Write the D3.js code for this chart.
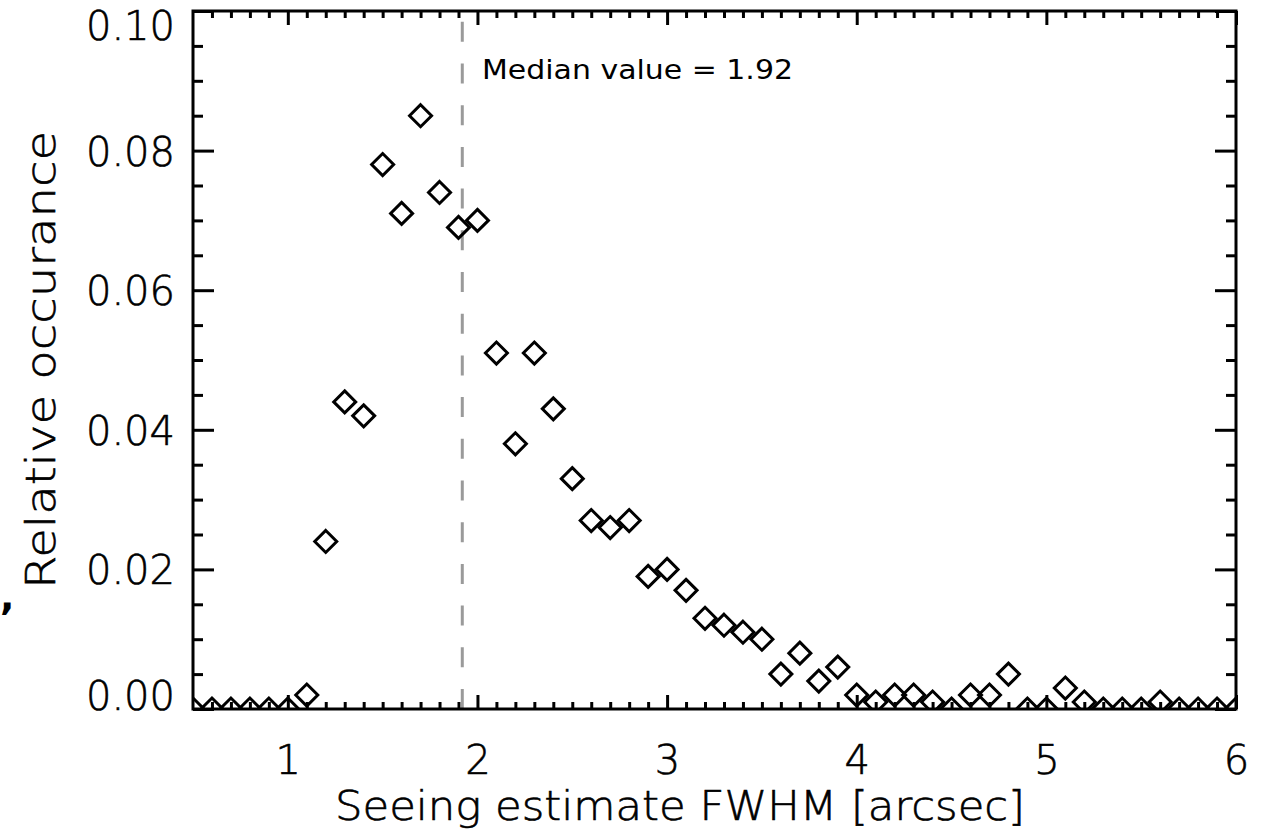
<!DOCTYPE html>
<html>
<head>
<meta charset="utf-8">
<script src="https://cdn.jsdelivr.net/npm/d3@7"></script>
<style>
  html, body { margin: 0; padding: 0; background: #fff; }
  svg { display: block; }
  text { font-family: "DejaVu Sans", sans-serif; fill: #000; }
  .thin { font-weight: 200; stroke: #000; stroke-width: 0.6px; }
</style>
</head>
<body>
<svg id="chart" width="1263" height="832"></svg>
<script>
// ---- data ----
const seeingBins = [0.5,0.6,0.7,0.8,0.9,1.0,1.1,1.2,1.3,1.4,1.5,1.6,1.7,1.8,1.9,2.0,
  2.1,2.2,2.3,2.4,2.5,2.6,2.7,2.8,2.9,3.0,3.1,3.2,3.3,3.4,3.5,3.6,3.7,3.8,3.9,4.0,
  4.1,4.2,4.3,4.4,4.5,4.6,4.7,4.8,4.9,5.0,5.1,5.2,5.3,5.4,5.5,5.6,5.7,5.8,5.9,6.0];
const relativeOccurance = [0,0,0,0,0,0,0.002,0.024,0.044,0.042,0.078,0.071,0.085,0.074,0.069,0.070,
  0.051,0.038,0.051,0.043,0.033,0.027,0.026,0.027,0.019,0.020,0.017,0.013,0.012,0.011,0.010,0.005,
  0.008,0.004,0.006,0.002,0.001,0.002,0.002,0.001,0,0.002,0.002,0.005,0,0,0.003,0.001,0,0,0,0.001,
  0,0,0,0];
const medianValue = 1.92;
const xMajorTicks = [1,2,3,4,5,6];
const yMajorTicks = [0.00,0.02,0.04,0.06,0.08,0.10];
const xTitle = "Seeing estimate FWHM [arcsec]";
const yTitle = "Relative occurance";
const medianLabel = "Median value = 1.92";

// ---- layout ----
const L = 193, R = 1236, T = 11, B = 709;
const svg = d3.select("#chart");
const x = d3.scaleLinear().domain([0.5, 6.0]).range([L, R]);
const y = d3.scaleLinear().domain([0, 0.10]).range([B, T]);

const xMinor = d3.range(6, 60).map(d => d / 10).filter(v => Math.abs(v - Math.round(v)) > 1e-6);
const yMinor = d3.range(1, 20).map(d => d * 0.005).filter(v => Math.abs(v / 0.02 - Math.round(v / 0.02)) > 1e-6);

function styleAxis(g) {
  g.select(".domain").remove();
  g.selectAll(".tick line").attr("stroke", "#000").attr("stroke-width", 3);
}

// bottom
svg.append("g").attr("transform", `translate(0,${B})`)
  .call(d3.axisBottom(x).tickValues(xMajorTicks).tickSize(-14).tickPadding(37).tickFormat(d3.format("d")))
  .call(styleAxis)
  .call(g => g.selectAll("text").attr("class", "thin").attr("font-size", 40).attr("font-family", "DejaVu Sans"));
svg.append("g").attr("transform", `translate(0,${B})`)
  .call(d3.axisBottom(x).tickValues(xMinor).tickSize(-7).tickFormat(""))
  .call(styleAxis);
// top
svg.append("g").attr("transform", `translate(0,${T})`)
  .call(d3.axisTop(x).tickValues(xMajorTicks).tickSize(-14).tickFormat(""))
  .call(styleAxis);
svg.append("g").attr("transform", `translate(0,${T})`)
  .call(d3.axisTop(x).tickValues(xMinor).tickSize(-7).tickFormat(""))
  .call(styleAxis);
// left
svg.append("g").attr("transform", `translate(${L},0)`)
  .call(d3.axisLeft(y).tickValues(yMajorTicks).tickSize(-21).tickPadding(18).tickFormat(d3.format(".2f")))
  .call(styleAxis)
  .call(g => g.selectAll("text").attr("class", "thin").attr("font-size", 40).attr("font-family", "DejaVu Sans")
    .attr("dy", d => d >= 0.1 ? "0.70em" : (d === 0 ? "0.02em" : "0.36em")));
svg.append("g").attr("transform", `translate(${L},0)`)
  .call(d3.axisLeft(y).tickValues(yMinor).tickSize(-10).tickFormat(""))
  .call(styleAxis);
// right
svg.append("g").attr("transform", `translate(${R},0)`)
  .call(d3.axisRight(y).tickValues(yMajorTicks).tickSize(-21).tickFormat(""))
  .call(styleAxis);
svg.append("g").attr("transform", `translate(${R},0)`)
  .call(d3.axisRight(y).tickValues(yMinor).tickSize(-10).tickFormat(""))
  .call(styleAxis);

// median dashed line
svg.append("line")
  .attr("x1", x(medianValue)).attr("x2", x(medianValue))
  .attr("y1", y(0)).attr("y2", y(0.10))
  .attr("stroke", "#9a9a9a").attr("stroke-width", 3)
  .attr("stroke-dasharray", "20 21.7");

// clip
svg.append("clipPath").attr("id", "plotclip")
  .append("rect").attr("x", L).attr("y", T).attr("width", R - L).attr("height", B - T);

// diamonds
const s = 11;
const diamond = `M0,${-s}L${s},0L0,${s}L${-s},0Z`;
svg.append("g").attr("clip-path", "url(#plotclip)")
  .selectAll("path").data(seeingBins.map((b, i) => [b, relativeOccurance[i]]))
  .join("path")
  .attr("d", diamond)
  .attr("transform", d => `translate(${x(d[0])},${y(d[1])})`)
  .attr("fill", "none").attr("stroke", "#000").attr("stroke-width", 3)
  .attr("stroke-linejoin", "miter");

// frame
svg.append("rect").attr("x", L).attr("y", T).attr("width", R - L).attr("height", B - T)
  .attr("fill", "none").attr("stroke", "#000").attr("stroke-width", 3);

// median label
svg.append("text").attr("x", 482).attr("y", 79).attr("font-size", 26)
  .style("font-weight", "400")
  .attr("textLength", 311).attr("lengthAdjust", "spacingAndGlyphs")
  .text(medianLabel);

// axis titles
svg.append("text").attr("class", "thin").attr("x", 680).attr("y", 820).attr("text-anchor", "middle")
  .attr("font-size", 40).attr("textLength", 690).attr("lengthAdjust", "spacingAndGlyphs")
  .text(xTitle);
svg.append("text").attr("class", "thin").attr("transform", `translate(55,${(T + B) / 2}) rotate(-90)`)
  .attr("text-anchor", "middle").attr("font-size", 40)
  .attr("textLength", 458).attr("lengthAdjust", "spacingAndGlyphs")
  .text(yTitle);

// stray comma at left edge
svg.append("text").attr("x", 0).attr("y", 610).attr("font-size", 38)
  .style("font-weight", "700").text(",");
</script>
</body>
</html>
